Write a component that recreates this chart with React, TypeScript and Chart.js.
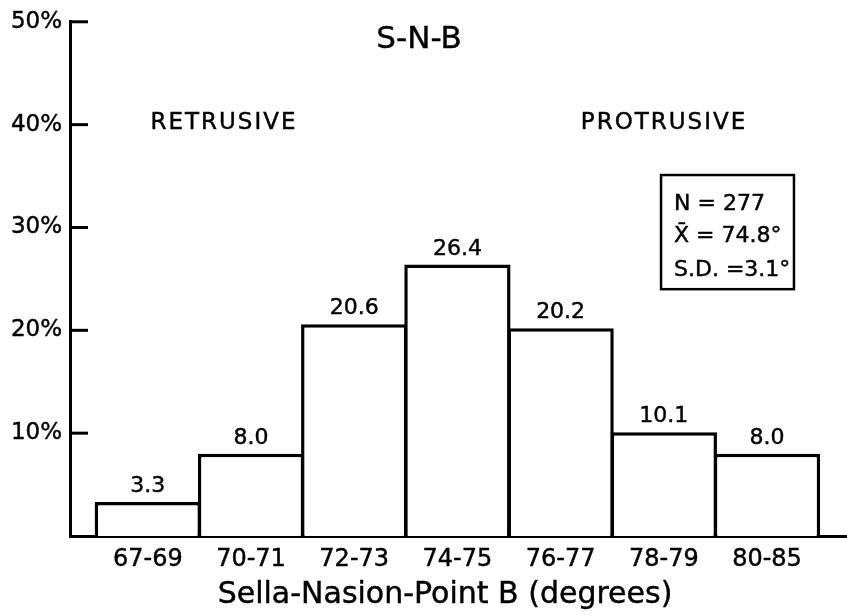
import React, { useEffect, useRef } from 'react';
import { Chart, registerables } from 'chart.js';

Chart.register(...registerables);

const categories = ['67-69', '70-71', '72-73', '74-75', '76-77', '78-79', '80-85'];
const percentages = [3.3, 8.0, 20.6, 26.4, 20.2, 10.1, 8.0];
const yTickValues = [0, 10, 20, 30, 40, 50];
const chartTitle = 'S-N-B';
const xAxisTitle = 'Sella-Nasion-Point B (degrees)';
const leftNote = 'RETRUSIVE';
const rightNote = 'PROTRUSIVE';
const statLines = ['N = 277', 'X\u0304 = 74.8\u00B0', 'S.D. =3.1\u00B0'];

const FONT = '"DejaVu Sans", sans-serif';
const TEXT_STROKE = 0.45;

const annotatePlugin = {
  id: 'annotate',
  afterDraw(chart: any) {
    const ctx = chart.ctx as CanvasRenderingContext2D;
    const xs = chart.scales.x;
    const ys = chart.scales.y;
    const ca = chart.chartArea;
    const X = (u: number) => xs.getPixelForValue(u);
    const Y = (v: number) => ys.getPixelForValue(v);
    const text = (t: string, x: number, y: number) => {
      ctx.lineWidth = TEXT_STROKE;
      ctx.fillText(t, x, y);
      ctx.strokeText(t, x, y);
    };
    ctx.save();
    ctx.strokeStyle = '#000';
    ctx.fillStyle = '#000';

    // inward tick marks on the y axis
    ctx.lineWidth = 3;
    yTickValues.forEach((v) => {
      if (v === 0) return;
      const y = Y(v);
      ctx.beginPath();
      ctx.moveTo(ca.left - 1, y);
      ctx.lineTo(ca.left + 18, y);
      ctx.stroke();
    });

    // value labels above bars
    const meta = chart.getDatasetMeta(0);
    ctx.font = `22px ${FONT}`;
    ctx.textAlign = 'center';
    ctx.textBaseline = 'alphabetic';
    meta.data.forEach((bar: any, i: number) => {
      text(percentages[i].toFixed(1), bar.x, bar.y - 10);
    });

    // title
    ctx.font = `31px ${FONT}`;
    text(chartTitle, X(2.628), Y(47.5));

    // notes
    ctx.font = `23px ${FONT}`;
    (ctx as any).letterSpacing = '2px';
    text(leftNote, X(0.738), Y(39.6));
    text(rightNote, X(5.002), Y(39.6));
    (ctx as any).letterSpacing = '0px';

    // stats box
    ctx.lineWidth = 2.5;
    const bx0 = X(4.973), bx1 = X(6.261), by0 = Y(35.1), by1 = Y(24.0);
    ctx.strokeRect(bx0, by0, bx1 - bx0, by1 - by0);
    ctx.font = `22px ${FONT}`;
    ctx.textAlign = 'left';
    const baselines = [31.7, 28.6, 25.3];
    statLines.forEach((t, i) => text(t, X(5.099), Y(baselines[i])));

    // x axis title
    ctx.font = `30px ${FONT}`;
    ctx.textAlign = 'center';
    text(xAxisTitle, X(2.88), Y(0) + 67);

    ctx.restore();
  },
};

export default function App() {
  const ref = useRef<HTMLCanvasElement | null>(null);
  useEffect(() => {
    if (!ref.current) return;
    const chart = new Chart(ref.current, {
      type: 'bar',
      data: {
        datasets: [
          {
            data: percentages.map((v, i) => ({ x: i, y: v })),
            backgroundColor: '#ffffff',
            borderColor: '#000000',
            borderWidth: 3.5,
            borderSkipped: 'start',
            barPercentage: 1.03,
            categoryPercentage: 1,
          },
        ],
      },
      options: {
        responsive: false,
        animation: false,
        events: [],
        layout: { padding: { top: 18, right: 0, bottom: 0, left: 0 } },
        plugins: { legend: { display: false }, tooltip: { enabled: false }, title: { display: false } },
        scales: {
          x: {
            type: 'linear',
            min: -0.754,
            max: 6.775,
            offset: false,
            afterBuildTicks: (scale: any) => {
              scale.ticks = categories.map((_, i) => ({ value: i }));
            },
            afterFit: (scale: any) => {
              scale.height = 80;
            },
            grid: { display: false, drawTicks: false },
            border: { display: true, color: '#000', width: 3 },
            ticks: {
              color: '#000',
              font: { family: FONT, size: 24 },
              padding: 9,
              autoSkip: false,
              maxRotation: 0,
              textStrokeColor: '#000',
              textStrokeWidth: TEXT_STROKE,
              callback: (v: any) => categories[Math.round(Number(v))] ?? '',
            },
          },
          y: {
            type: 'linear',
            min: 0,
            max: 50,
            afterBuildTicks: (scale: any) => {
              scale.ticks = yTickValues.map((v) => ({ value: v }));
            },
            afterFit: (scale: any) => {
              scale.width = 70;
            },
            grid: { display: false, drawTicks: false },
            border: { display: true, color: '#000', width: 3 },
            ticks: {
              color: '#000',
              font: { family: FONT, size: 23 },
              padding: 8,
              textStrokeColor: '#000',
              textStrokeWidth: TEXT_STROKE,
              callback: (v: any) => (Number(v) === 0 ? '' : `${v}%`),
            },
          },
        },
      },
      plugins: [annotatePlugin],
    } as any);
    return () => chart.destroy();
  }, []);
  return (
    <div style={{ position: 'fixed', left: 0, top: 0, width: 847, height: 616, background: '#fff' }}>
      <canvas ref={ref} width={847} height={616} style={{ display: 'block' }} />
    </div>
  );
}
